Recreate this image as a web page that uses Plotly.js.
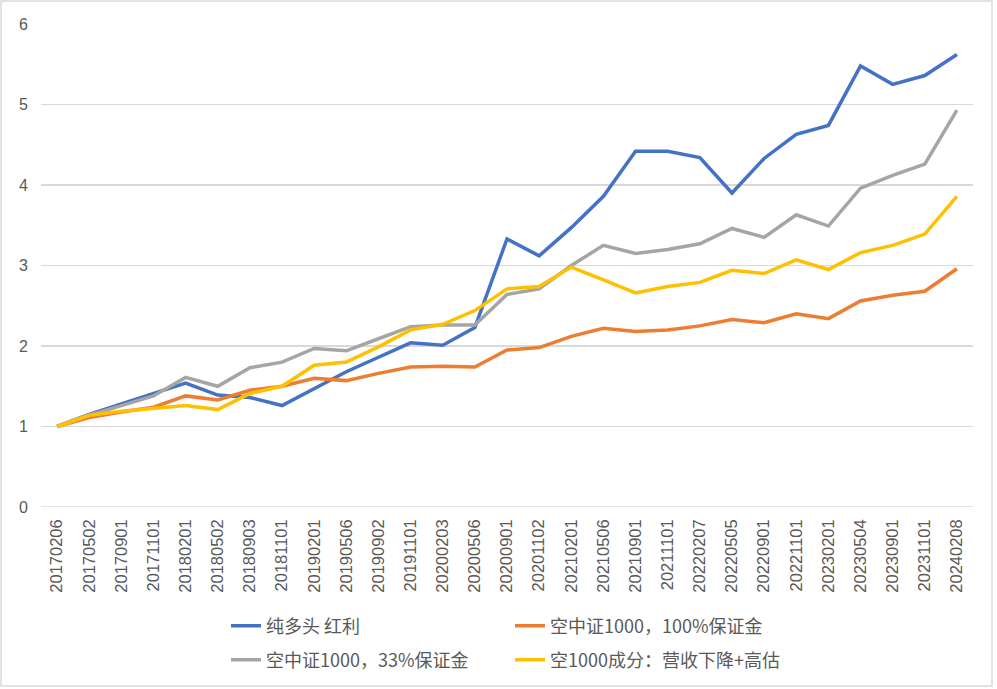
<!DOCTYPE html>
<html>
<head>
<meta charset="utf-8">
<script src="https://cdn.plot.ly/plotly-3.0.1.min.js"></script>
<style>html,body{margin:0;padding:0;background:#fff;}#chart{width:997px;height:689px;}</style>
</head>
<body>
<div id="chart"></div>
<script>
var dates = ['20170206','20170502','20170901','20171101','20180201','20180502','20180903','20181101','20190201','20190506','20190902','20191101','20200203','20200506','20200901','20201102','20210201','20210506','20210901','20211101','20220207','20220505','20220901','20221101','20230201','20230504','20230901','20231101','20240208'];
var seriesNames = ['纯多头 红利','空中证1000，100%保证金','空中证1000，33%保证金','空1000成分：营收下降+高估'];
var longDividend = [1.00,1.15,1.28,1.41,1.54,1.39,1.36,1.26,1.47,1.68,1.86,2.04,2.01,2.23,3.33,3.12,3.47,3.86,4.42,4.42,4.34,3.90,4.33,4.63,4.74,5.48,5.25,5.36,5.62];
var short100 = [1.00,1.11,1.18,1.24,1.38,1.33,1.45,1.50,1.60,1.57,1.66,1.74,1.75,1.74,1.95,1.98,2.12,2.22,2.18,2.20,2.25,2.33,2.29,2.40,2.34,2.56,2.63,2.68,2.96];
var short33 = [1.00,1.14,1.26,1.38,1.61,1.50,1.73,1.80,1.97,1.94,2.09,2.24,2.26,2.26,2.64,2.71,3.00,3.25,3.15,3.20,3.27,3.46,3.35,3.63,3.49,3.96,4.12,4.26,4.93];
var shortComponents = [1.00,1.14,1.19,1.23,1.26,1.21,1.41,1.50,1.76,1.80,1.99,2.20,2.27,2.44,2.71,2.74,2.98,2.82,2.66,2.74,2.79,2.94,2.90,3.07,2.95,3.16,3.25,3.39,3.86];
var yTicks = [0,1,2,3,4,5,6];

var colors = ['#4472C4','#ED7D31','#A5A5A5','#FFC000'];
var values = [longDividend, short100, short33, shortComponents];
var legendIds = ['legend','legend','legend2','legend2'];

var traces = values.map(function(v, i){
  return {
    type: 'scatter', mode: 'lines', x: dates, y: v, name: seriesNames[i],
    line: {color: colors[i], width: 3.5},
    legend: legendIds[i]
  };
});

var legendFont = {family: '"Noto Sans CJK SC", "Noto Sans", sans-serif', size: 18, color: '#595959'};
var layout = {
  width: 997, height: 689,
  paper_bgcolor: '#fff', plot_bgcolor: '#fff',
  margin: {l: 41, r: 24, t: 24, b: 182, autoexpand: false},
  font: {family: '"Liberation Sans", Arial, sans-serif', color: '#595959'},
  xaxis: {
    type: 'category', range: [-0.5, 28.5], tickangle: -90,
    showgrid: false, zeroline: false, showline: false, ticks: '',
    tickfont: {size: 16.5, color: '#595959', family: '"Liberation Sans", Arial, sans-serif'},
    ticklabelstandoff: 8, fixedrange: true
  },
  yaxis: {
    range: [0, 6], tickvals: yTicks, ticktext: yTicks.map(String),
    showgrid: true, gridcolor: '#D9D9D9', gridwidth: 1.3, zeroline: false, showline: false, ticks: '',
    tickfont: {size: 16, color: '#595959', family: '"Liberation Sans", Arial, sans-serif'},
    ticklabelstandoff: 12, fixedrange: true
  },
  shapes: [
    {type: 'line', xref: 'paper', yref: 'y', x0: 0, x1: 1, y0: 0, y1: 0, line: {color: '#D9D9D9', width: 1.3}, layer: 'below'},
    {type: 'rect', xref: 'paper', yref: 'paper', x0: -0.0429, x1: 1.0204, y0: -0.3706, y1: 1.0476, line: {color: '#D9D9D9', width: 1.5}, fillcolor: 'rgba(0,0,0,0)'}
  ],
  legend: {
    orientation: 'h', x: 0.1985, xanchor: 'left', y: -0.2464, yanchor: 'middle',
    entrywidth: 239, entrywidthmode: 'pixels', font: legendFont, bgcolor: 'rgba(0,0,0,0)',
    traceorder: 'normal'
  },
  legend2: {
    orientation: 'h', x: 0.1985, xanchor: 'left', y: -0.3168, yanchor: 'middle',
    entrywidth: 239, entrywidthmode: 'pixels', font: legendFont, bgcolor: 'rgba(0,0,0,0)',
    traceorder: 'normal'
  },
  showlegend: true
};

Plotly.newPlot('chart', traces, layout, {displayModeBar: false, staticPlot: true});
</script>
</body>
</html>
